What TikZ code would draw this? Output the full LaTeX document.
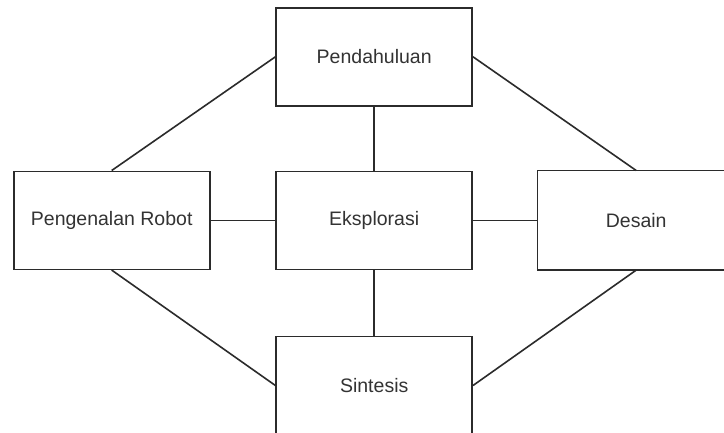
\documentclass[tikz,border=0pt]{standalone}
\usepackage{fontspec}
\setmainfont{Liberation Sans}
\definecolor{edge}{HTML}{2B2B2B}
\definecolor{label}{HTML}{333333}
\begin{document}
\begin{tikzpicture}[x=1pt,y=-1pt,
  topic/.style={draw=edge, line width=1.6pt, fill=white, minimum width=196pt,
    minimum height=98pt, inner sep=0pt, text=label,
    font=\fontsize{19.5pt}{22pt}\selectfont},
  link/.style={draw=edge, line width=1.6pt}]
  % canvas
  \fill[white] (0,0) rectangle (724,432);
  \useasboundingbox (0,0) rectangle (724,432);
  \clip (0,0) rectangle (724,432);

  % topics
  \node[topic] (pend) at (374.2,56.8) {Pendahuluan};
  \node[topic] (robot) at (111.7,220.3) {Pengenalan Robot};
  \node[topic] (eksp) at (374.2,220.3) {Eksplorasi};
  \node[topic] (sint) at (374.2,385.5) {Sintesis};
  % this box runs off the right margin: only its visible sides are stroked
  \node[topic, draw=none] (desain) at (636.2,220.3) {Desain};
  \draw[link, line cap=rect] (desain.north east) -- (desain.north west)
    -- (desain.south west) -- (desain.south east);

  % connectors
  \draw[link] (pend.west) -- (robot.north);
  \draw[link] (pend.east) -- (desain.north);
  \draw[link] (robot.south) -- (sint.west);
  \draw[link] (desain.south) -- (sint.east);
  \draw[link] (eksp.north) -- (pend.south);
  \draw[link] (eksp.south) -- (sint.north);
  \draw[link] (eksp.west) -- (robot.east);
  \draw[link] (eksp.east) -- (desain.west);
\end{tikzpicture}
\end{document}
